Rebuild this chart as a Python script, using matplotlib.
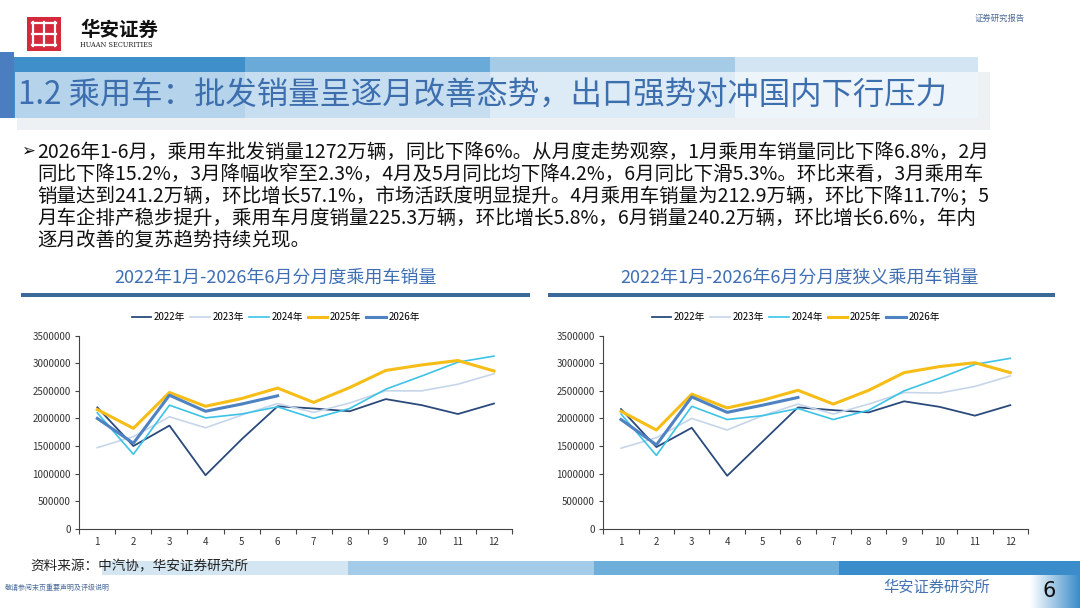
import numpy as np
import matplotlib
matplotlib.use("Agg")
from matplotlib import pyplot as plt
from matplotlib.patches import Rectangle

plt.rcParams['font.family'] = ['Noto Sans CJK SC', 'DejaVu Sans']

# 数据（读图估计，单位：辆）
months = list(range(1, 13))
years = ['2022年', '2023年', '2024年', '2025年', '2026年']

# 乘用车销量
pv_2022 = [2200000, 1500000, 1870000, 970000, 1620000, 2220000, 2180000, 2130000, 2350000, 2240000, 2080000, 2270000]
pv_2023 = [1470000, 1670000, 2030000, 1830000, 2060000, 2270000, 2110000, 2280000, 2500000, 2500000, 2620000, 2810000]
pv_2024 = [2100000, 1350000, 2240000, 2010000, 2080000, 2210000, 2000000, 2180000, 2530000, 2770000, 3020000, 3130000]
pv_2025 = [2160000, 1820000, 2470000, 2220000, 2360000, 2550000, 2290000, 2560000, 2870000, 2970000, 3050000, 2860000]
pv_2026 = [2000000, 1550000, 2420000, 2130000, 2260000, 2410000]

# 狭义乘用车销量
nr_2022 = [2170000, 1480000, 1830000, 960000, 1580000, 2200000, 2150000, 2110000, 2310000, 2210000, 2050000, 2240000]
nr_2023 = [1460000, 1650000, 2000000, 1790000, 2050000, 2260000, 2080000, 2260000, 2470000, 2460000, 2580000, 2770000]
nr_2024 = [2080000, 1330000, 2220000, 1980000, 2050000, 2180000, 1980000, 2150000, 2500000, 2730000, 2980000, 3090000]
nr_2025 = [2130000, 1790000, 2440000, 2190000, 2330000, 2510000, 2260000, 2510000, 2830000, 2940000, 3010000, 2830000]
nr_2026 = [1980000, 1520000, 2390000, 2110000, 2240000, 2380000]

colors = ['#2b4a7c', '#c6d6ea', '#3cc3e6', '#f6bd16', '#4f82c0']
widths = [1.3, 1.2, 1.2, 2.2, 2.2]

W, H = 1080, 608
fig = plt.figure(figsize=(W / 100, H / 100), dpi=100)

# 背景层，像素坐标
bg = fig.add_axes([0, 0, 1, 1])
bg.set_xlim(0, W)
bg.set_ylim(H, 0)
bg.axis('off')

def box(x0, y0, x1, y1, color, alpha=1.0, z=1):
    bg.add_patch(Rectangle((x0, y0), x1 - x0, y1 - y0, facecolor=color,
                           edgecolor='none', alpha=alpha, zorder=z))

# logo
box(27, 17, 61, 51, '#d42a3c')
for v in [33, 44, 55]:
    bg.plot([v, v], [22, 46], color='white', lw=1.6, zorder=2)
for h in [23, 34, 45]:
    bg.plot([32, 56], [h, h], color='white', lw=1.6, zorder=2)
bg.text(80, 30, '华安证券', fontsize=14, color='#111111', va='center', ha='left', weight='bold')
bg.text(80, 45, 'HUAAN SECURITIES', fontsize=4.8, color='#222222', va='center', ha='left',
        family='DejaVu Serif')
bg.text(1000, 18, '证券研究报告', fontsize=6, color='#4a6a9a', va='center', ha='center')

# 标题栏
box(17, 72, 990, 130, '#eef1f4', z=1)
box(0, 52, 14, 118, '#4b7ec0', z=2)
for x0, x1, c in [(14, 245, '#3f8fcb'), (245, 490, '#6aaad9'),
                  (490, 735, '#a5cbe7'), (735, 978, '#d3e5f2')]:
    box(x0, 57, x1, 118, c, z=2)
box(15, 72, 978, 118, 'white', alpha=0.62, z=3)
bg.text(18, 96, '1.2 乘用车：批发销量呈逐月改善态势，出口强势对冲国内下行压力',
        fontsize=22.6, color='#3d6eae', va='center', ha='left', zorder=4)

# 正文
lines = [
    '2026年1-6月，乘用车批发销量1272万辆，同比下降6%。从月度走势观察，1月乘用车销量同比下降6.8%，2月',
    '同比下降15.2%，3月降幅收窄至2.3%，4月及5月同比均下降4.2%，6月同比下滑5.3%。环比来看，3月乘用车',
    '销量达到241.2万辆，环比增长57.1%，市场活跃度明显提升。4月乘用车销量为212.9万辆，环比下降11.7%；5',
    '月车企排产稳步提升，乘用车月度销量225.3万辆，环比增长5.8%，6月销量240.2万辆，环比增长6.6%，年内',
    '逐月改善的复苏趋势持续兑现。',
]
bg.text(21, 151, '➢', fontsize=12, color='#111111', va='center', ha='left', family='DejaVu Sans',
        weight='bold')
for i, s in enumerate(lines):
    bg.text(37, 152 + i * 22, s, fontsize=14, color='#111111', va='center', ha='left')

# 图标题
titles = ['2022年1月-2026年6月分月度乘用车销量', '2022年1月-2026年6月分月度狭义乘用车销量']
bg.text(276, 278, titles[0], fontsize=13, color='#3f6fb2', va='center', ha='center')
bg.text(800, 278, titles[1], fontsize=13, color='#3f6fb2', va='center', ha='center')
box(21, 293, 530, 297, '#3b6a9a')
box(548, 293, 1055, 297, '#3b6a9a')

# 底部
for x0, x1, c in [(102, 348, '#d5e6f3'), (348, 594, '#a4cbe7'),
                  (594, 839, '#6eaedb'), (839, 1080, '#3b8cca')]:
    box(x0, 561, x1, 575, c)
bg.text(30, 566, '资料来源：中汽协，华安证券研究所', fontsize=9.8, color='#222222',
        va='center', ha='left', zorder=3)
bg.text(5, 588, '敬请参阅末页重要声明及评级说明', fontsize=5, color='#4a6a9a', va='center', ha='left')
bg.text(937, 587, '华安证券研究所', fontsize=11, color='#4672b0', va='center', ha='center')
grad = np.linspace(0, 1, 60).reshape(1, -1)
bg.imshow(grad, extent=(1030, 1080, 608, 575), cmap=matplotlib.colors.LinearSegmentedColormap.from_list(
    'g', ['#ffffff', '#3b8cca']), aspect='auto', zorder=1)
bg.set_xlim(0, W)
bg.set_ylim(H, 0)
bg.text(1049, 591, '6', fontsize=15, color='#111111', va='center', ha='center', family='DejaVu Sans', zorder=3)


def draw_chart(rect, series, legend_x):
    ax = fig.add_axes(rect)
    for name, vals, c, lw in zip(years, series, colors, widths):
        ax.plot(months[:len(vals)], vals, color=c, lw=lw, label=name)
    ax.set_xlim(0.5, 12.5)
    ax.set_ylim(0, 3500000)
    ax.set_yticks(np.arange(0, 3500001, 500000))
    ax.set_yticklabels([str(v) for v in range(0, 3500001, 500000)])
    ax.set_xticks(months)
    ax.set_xticks(np.arange(0.5, 13, 1), minor=True)
    ax.tick_params(axis='x', which='major', length=0, pad=6, labelsize=7, labelcolor='#333333')
    ax.tick_params(axis='x', which='minor', length=3.5, direction='out', color='#444444', width=0.8)
    ax.tick_params(axis='y', length=3, direction='out', color='#444444', width=0.8,
                   labelsize=7, labelcolor='#333333', pad=3)
    for sp in ['top', 'right']:
        ax.spines[sp].set_visible(False)
    for sp in ['left', 'bottom']:
        ax.spines[sp].set_color('#444444')
        ax.spines[sp].set_linewidth(0.8)
    ax.patch.set_alpha(0)
    fig.legend(*ax.get_legend_handles_labels(), loc='center', ncol=5, frameon=False,
               fontsize=7, handlelength=2.0, handletextpad=0.3, columnspacing=0.5,
               bbox_to_anchor=(legend_x / W, 1 - 317 / H))
    return ax


draw_chart([79.3 / W, 1 - 528.7 / H, 432.7 / W, 193 / H],
           [pv_2022, pv_2023, pv_2024, pv_2025, pv_2026], 276)
draw_chart([603.3 / W, 1 - 528.7 / H, 424.7 / W, 193 / H],
           [nr_2022, nr_2023, nr_2024, nr_2025, nr_2026], 796)

fig.savefig('out.png', dpi=100)
